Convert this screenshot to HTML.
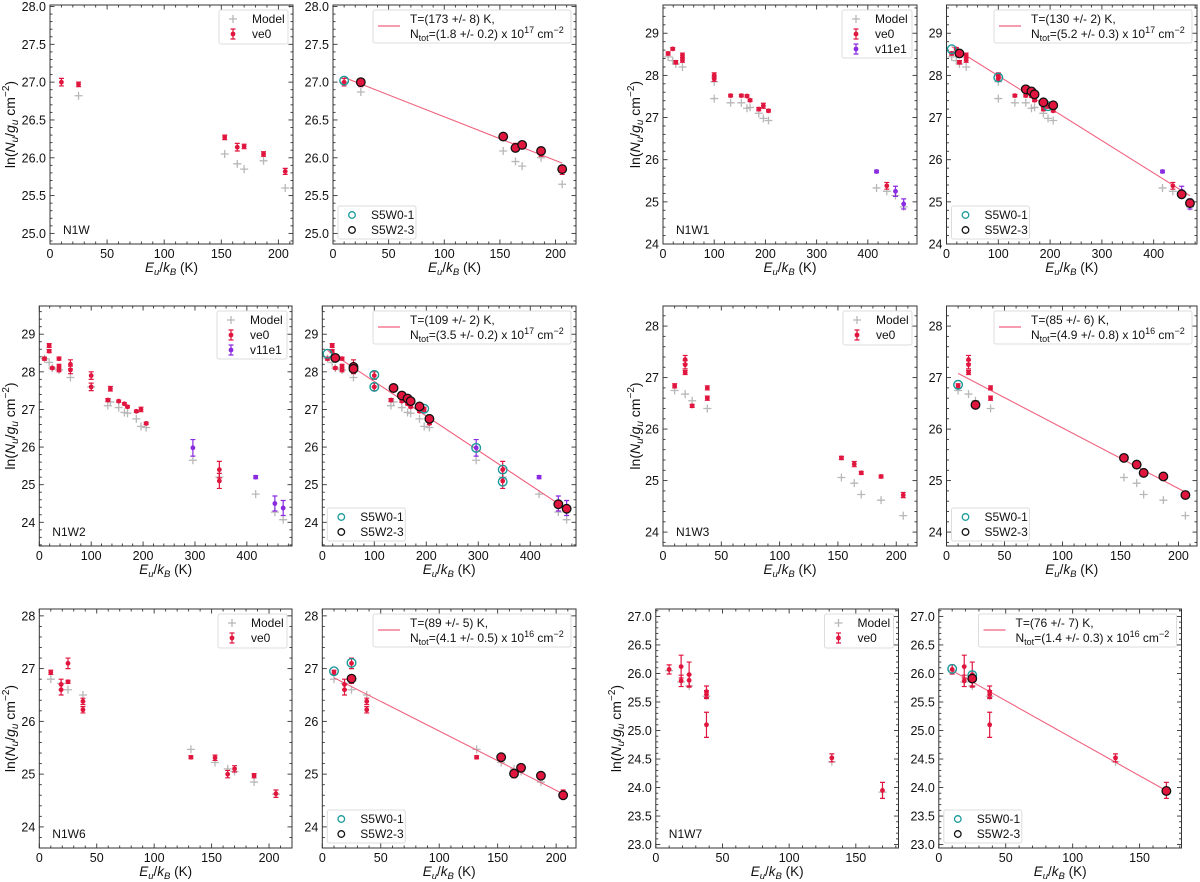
<!DOCTYPE html>
<html><head><meta charset="utf-8"><style>
html,body{margin:0;padding:0;background:#fff}
svg{display:block;font-family:"Liberation Sans",sans-serif}
</style></head><body>
<svg id="fig" width="1200" height="882" viewBox="0 0 1200 882"></svg>
<script>
// ---------- data ----------
const w_ve0 = [[10,27.0,.05],[25,26.97,.03],[153,26.27,.03],[164,26.14,.05],[170,26.15,.03],[187,26.05,.03],[206,25.82,.04]];
const w_model = [[25,26.82],[153,26.05],[164,25.92],[170,25.85],[187,25.96],[206,25.6]];
const w_model2 = [[10,27.0],[25,26.87],[153,26.09],[164,25.95],[170,25.89],[187,26.0],[206,25.65]];
const w_s0 = [[10,27.02]];
const w_s2 = [[25,27.0],[153,26.28],[164,26.13],[170,26.17],[187,26.09],[206,25.85]];

const w1_ve0 = [[10,28.52,.04],[19,28.63,.03],[25,28.31,.04],[38,28.48,.05],[38,28.36,.05],[100,28.0,.06],[100,27.92,.06],[132,27.52,.03],[153,27.52,.03],[164,27.51,.03],[170,27.41,.03],[187,27.2,.04],[196,27.28,.06],[206,27.16,.03],[437,25.38,.08]];
const w1_v11 = [[417,25.72,.03],[454,25.25,.12],[470,24.95,.12]];
const w1_model = [[10,28.44],[19,28.35],[25,28.27],[38,28.2],[100,27.45],[100,27.85],[132,27.35],[153,27.35],[164,27.22],[170,27.24],[187,27.1],[196,26.98],[206,26.93],[417,25.33],[437,25.25],[454,25.15],[470,24.88]];
const w1_s0 = [[10,28.62],[100,27.95],[196,27.27]];
const w1_s2 = [[25,28.52],[153,27.67],[164,27.62],[170,27.55],[187,27.36],[206,27.29],[454,25.18],[470,24.97]];

const w2_ve0 = [[10,28.35,.04],[19,28.7,.05],[19,28.55,.04],[25,28.1,.03],[38,28.35,.04],[38,28.15,.05],[38,28.05,.05],[60,28.2,.12],[60,28.05,.1],[100,27.9,.1],[100,27.6,.1],[137,27.55,.06],[132,27.25,.04],[153,27.22,.03],[164,27.15,.03],[170,27.07,.03],[187,26.95,.03],[196,27.0,.06],[206,26.63,.03],[347,25.4,.22],[347,25.1,.2]];
const w2_v11 = [[296,25.98,.22],[417,25.2,.04],[454,24.5,.2],[470,24.38,.2]];
const w2_model = [[10,28.35],[19,28.25],[25,28.1],[38,28.05],[60,27.85],[100,27.6],[137,27.2],[132,27.1],[153,27.05],[164,26.92],[170,26.9],[187,26.75],[196,26.55],[206,26.52],[296,25.65],[347,25.2],[417,24.75],[454,24.27],[470,24.07]];
const w2_s0 = [[10,28.48],[100,27.92],[100,27.6],[196,27.02],[296,25.98],[347,25.4],[347,25.08]];
const w2_s2 = [[25,28.37],[60,28.13],[60,28.08],[137,27.57],[153,27.37],[164,27.29],[170,27.22],[187,27.08],[206,26.75],[454,24.48],[470,24.36]];

const w3_ve0 = [[10,26.84,.04],[19,27.35,.08],[19,27.25,.08],[19,27.1,.04],[25,26.45,.03],[38,26.8,.04],[38,26.6,.04],[153,25.44,.03],[164,25.32,.05],[170,25.15,.03],[187,25.08,.03],[206,24.72,.05]];
const w3_model = [[10,26.75],[19,26.68],[25,26.55],[38,26.4],[153,25.06],[164,24.95],[170,24.73],[187,24.62],[206,24.32]];
const w3_s0 = [[10,26.86]];
const w3_s2 = [[25,26.47],[153,25.44],[164,25.31],[170,25.15],[187,25.08],[206,24.72]];

const w6_ve0 = [[10,26.93,.04],[19,26.7,.1],[19,26.6,.1],[25,27.1,.1],[25,26.75,.03],[38,26.38,.06],[38,26.22,.06],[132,25.32,.03],[153,25.31,.05],[164,25.0,.07],[170,25.1,.06],[187,24.97,.04],[206,24.63,.07]];
const w6_model = [[10,26.8],[19,26.72],[25,26.6],[38,26.5],[132,25.47],[153,25.22],[164,25.1],[170,25.05],[187,24.85],[206,24.62]];
const w6_s0 = [[10,26.95],[25,27.11]];
const w6_s2 = [[25,26.81],[153,25.32],[164,25.01],[170,25.12],[187,24.97],[206,24.6]];

const w7_ve0 = [[10,26.07,.08],[19,26.12,.2],[19,25.87,.1],[25,25.98,.22],[25,25.88,.1],[38,25.68,.1],[38,25.63,.07],[38,25.1,.22],[132,24.52,.07],[170,23.95,.14]];
const w7_model = [[10,26.05],[19,25.85],[25,25.78],[38,25.6],[132,24.45],[170,23.92]];
const w7_s0 = [[10,26.08],[25,25.97]];
const w7_s2 = [[25,25.91],[170,23.94]];

// fits: temperature, intercept at x=0, x range
const fitT = [173,130,109,85,89,76];
const fitB = [27.12,28.76,28.66,27.2,26.94,26.18];
const fitN = ['1.8 +/- 0.2','5.2 +/- 0.3','3.5 +/- 0.2','4.9 +/- 0.8','4.1 +/- 0.5','1.4 +/- 0.3'];
const fitE = ['17','17','17','16','16','16'];
const fitTerr = ['173 +/- 8','130 +/- 2','109 +/- 2','85 +/- 6','89 +/- 5','76 +/- 7'];
const fitX = [[10,206],[10,470],[10,470],[10,206],[10,206],[10,170]];
const names = ['N1W','N1W1','N1W2','N1W3','N1W6','N1W7'];

// ---------- layout ----------
const panels = [
 {b:[50,293,5,244],xl:[0,212.8],yl:[24.86,28.02],xm:50,xn:10,ym:.5,yn:.1,dec:1,ylx:15,ve0:w_ve0,model:w_model,k:0,left:true},
 {b:[333,576,5,244],xl:[0,218.4],yl:[24.86,28.02],xm:50,xn:10,ym:.5,yn:.1,dec:1,ve0:w_ve0,model:w_model2,s0:w_s0,s2:w_s2,k:0},
 {b:[663,917,5,244],xl:[0,496],yl:[24.0,29.67],xm:100,xn:20,ym:1,yn:.2,dec:0,ylx:640,ve0:w1_ve0,v11:w1_v11,model:w1_model,k:1,left:true},
 {b:[946.5,1197,5,244],xl:[0,483.6],yl:[24.0,29.67],xm:100,xn:20,ym:1,yn:.2,dec:0,ve0:w1_ve0,v11:w1_v11,model:w1_model,s0:w1_s0,s2:w1_s2,k:1},
 {b:[39.3,292,306,546],xl:[0,487],yl:[23.37,29.75],xm:100,xn:20,ym:1,yn:.2,dec:0,ylx:15,ve0:w2_ve0,v11:w2_v11,model:w2_model,k:2,left:true},
 {b:[322.3,576,306,546],xl:[0,488],yl:[23.37,29.75],xm:100,xn:20,ym:1,yn:.2,dec:0,ve0:w2_ve0,v11:w2_v11,model:w2_model,s0:w2_s0,s2:w2_s2,k:2},
 {b:[663,917,306,546],xl:[0,217.8],yl:[23.73,28.39],xm:50,xn:10,ym:1,yn:.2,dec:0,ylx:640,ve0:w3_ve0,model:w3_model,k:3,left:true},
 {b:[946.5,1197,306,546],xl:[0,216],yl:[23.73,28.39],xm:50,xn:10,ym:1,yn:.2,dec:0,ve0:w3_ve0,model:w3_model,s0:w3_s0,s2:w3_s2,k:3},
 {b:[39.3,292,609,848],xl:[0,220],yl:[23.6,28.13],xm:50,xn:10,ym:1,yn:.2,dec:0,ylx:15,ve0:w6_ve0,model:w6_model,k:4,left:true},
 {b:[322.3,576,609,848],xl:[0,217],yl:[23.6,28.13],xm:50,xn:10,ym:1,yn:.2,dec:0,ve0:w6_ve0,model:w6_model,s0:w6_s0,s2:w6_s2,k:4},
 {b:[655.8,898.5,609,848],xl:[0,182],yl:[22.94,27.13],xm:50,xn:10,ym:.5,yn:.1,dec:1,ylx:621,ve0:w7_ve0,model:w7_model,k:5,left:true},
 {b:[938.8,1181.5,609,848],xl:[0,181.3],yl:[22.94,27.13],xm:50,xn:10,ym:.5,yn:.1,dec:1,ve0:w7_ve0,model:w7_model,s0:w7_s0,s2:w7_s2,k:5}
];

const NS='http://www.w3.org/2000/svg';
const svg=document.getElementById('fig');
function mk(tag,attrs,parent,text){const e=document.createElementNS(NS,tag);for(const a in attrs)e.setAttribute(a,attrs[a]);if(text!==undefined)e.textContent=text;(parent||svg).appendChild(e);return e;}
const RED='#e0163f',PUR='#8a2be2',GRAY='#b8b8b8',TEAL='#1a9a9a';

function plus(g,x,y,c,s){mk('path',{d:`M${x-s} ${y}H${x+s}M${x} ${y-s}V${y+s}`,stroke:c,'stroke-width':1.3,fill:'none'},g);}
function errbar(g,x,ye,yt,yb,c){
  mk('path',{d:`M${x} ${yt}V${yb}M${x-2.5} ${yt}H${x+2.5}M${x-2.5} ${yb}H${x+2.5}`,stroke:c,'stroke-width':1.2,fill:'none'},g);
  mk('circle',{cx:x,cy:ye,r:2.4,fill:c},g);
}

panels.forEach((p,i)=>{
  const [x0,x1,y0,y1]=p.b;
  const X=v=>x0+(v-p.xl[0])/(p.xl[1]-p.xl[0])*(x1-x0);
  const Y=v=>y1-(v-p.yl[0])/(p.yl[1]-p.yl[0])*(y1-y0);
  const g=mk('g',{},svg);
  
  
  const clipId='clip'+i;
  const cp=mk('clipPath',{id:clipId},g);mk('rect',{x:x0,y:y0,width:x1-x0,height:y1-y0},cp);
  const tk=mk('g',{stroke:'#333','stroke-width':0.9},g);
  
  
  for(let v=0;v<=p.xl[1]+1e-9;v+=p.xn){
    const px=X(v);if(px<x0-0.1||px>x1+0.1)continue;
    const major=Math.abs(v/p.xm-Math.round(v/p.xm))<1e-6;const L=major?4.5:2.5;
    mk('line',{x1:px,x2:px,y1:y1,y2:y1-L},tk);mk('line',{x1:px,x2:px,y1:y0,y2:y0+L},tk);
    if(major){const t=mk('text',{x:px,y:y1+14,'text-anchor':'middle','font-size':12.5,fill:'#111',stroke:'none'},g,String(Math.round(v)));
      }
  }
  const ys=Math.ceil(p.yl[0]/p.yn-1e-6);
  for(let n=ys;n*p.yn<=p.yl[1]+1e-9;n++){
    const v=n*p.yn,py=Y(v);
    const major=Math.abs(v/p.ym-Math.round(v/p.ym))<1e-6;const L=major?4.5:2.5;
    mk('line',{x1:x0,x2:x0+L,y1:py,y2:py},tk);mk('line',{x1:x1,x2:x1-L,y1:py,y2:py},tk);
    if(major){const t=mk('text',{x:x0-4,y:py+4.5,'text-anchor':'end','font-size':12.5,fill:'#111',stroke:'none'},g,v.toFixed(p.dec));
      }
  }
  const xlab=mk('text',{x:(x0+x1)/2,y:y1+28,'text-anchor':'middle','font-size':13.5,fill:'#111'},g);
  
  xlab.innerHTML='<tspan font-style="italic">E</tspan><tspan font-style="italic" font-size="9.5" dy="3">u</tspan><tspan dy="-3">/</tspan><tspan font-style="italic">k</tspan><tspan font-style="italic" font-size="9.5" dy="3">B</tspan><tspan dy="-3"> (K)</tspan>';
  if(p.left){
    const yl=mk('text',{x:0,y:0,'text-anchor':'middle','font-size':14,fill:'#111',transform:`translate(${p.ylx},${(y0+y1)/2}) rotate(-90)`},g);
    
    yl.innerHTML='ln(<tspan font-style="italic">N</tspan><tspan font-style="italic" font-size="10" dy="3">u</tspan><tspan dy="-3">/</tspan><tspan font-style="italic">g</tspan><tspan font-style="italic" font-size="10" dy="3">u</tspan><tspan dy="-3"> cm</tspan><tspan font-size="10" dy="-6">−2</tspan><tspan dy="6">)</tspan>';
    const nm=mk('text',{x:x0+13,y:y1-10,'font-size':12,fill:'#111'},g,names[p.k]);
    
  }
  const dg=mk('g',{'clip-path':`url(#${clipId})`},g);
  
  p.model.forEach(d=>{plus(dg,X(d[0]),Y(d[1]),GRAY,4);});
  if(!p.left){
    const k=p.k,[xa,xb]=fitX[k];
    const ln=mk('line',{x1:X(xa),y1:Y(fitB[k]-xa/fitT[k]),x2:X(xb),y2:Y(fitB[k]-xb/fitT[k]),stroke:'#f0627e','stroke-width':1.1},dg);
    
  }
  p.ve0.forEach(d=>{errbar(dg,X(d[0]),Y(d[1]),Y(d[1]+d[2]),Y(d[1]-d[2]),RED);});
  if(p.v11)p.v11.forEach(d=>{errbar(dg,X(d[0]),Y(d[1]),Y(d[1]+d[2]),Y(d[1]-d[2]),PUR);});
  if(p.s0)p.s0.forEach(d=>{mk('circle',{cx:X(d[0]),cy:Y(d[1]),r:4.3,fill:'none',stroke:TEAL,'stroke-width':1.4},dg);});
  if(p.s2)p.s2.forEach(d=>{mk('circle',{cx:X(d[0]),cy:Y(d[1]),r:4.3,fill:RED,stroke:'#111','stroke-width':1.3},dg);});
  const fr=mk('rect',{x:x0,y:y0,width:x1-x0,height:y1-y0,fill:'none',stroke:'#333','stroke-width':1},g);
  
  if(p.left){
    const n=p.v11?3:2,h=n===3?48:34,w=n===3?70:69;
    const lg=mk('g',{},g);
    const lx=x1-5-w,ly=y0+5;
    mk('rect',{x:lx,y:ly,width:w,height:h,fill:'#fff',stroke:'#ddd','stroke-width':1,rx:2},lg);
    plus(lg,lx+14,ly+9,GRAY,4);
    mk('text',{x:lx+33,y:ly+13,'font-size':12,fill:'#111'},lg,'Model');
    errbar(lg,lx+14,ly+24,ly+19,ly+29,RED);
    mk('text',{x:lx+33,y:ly+28,'font-size':12,fill:'#111'},lg,'ve0');
    if(n===3){errbar(lg,lx+14,ly+39,ly+34,ly+44,PUR);mk('text',{x:lx+33,y:ly+43,'font-size':12,fill:'#111'},lg,'v11e1');}
  } else {
    const k=p.k;
    const lg=mk('g',{},g);
    const w=198,lx=x1-5-w,ly=y0+5;
    mk('rect',{x:lx,y:ly,width:w,height:33,fill:'#fff',stroke:'#ddd','stroke-width':1,rx:2},lg);
    mk('line',{x1:lx+5,x2:lx+27,y1:ly+16,y2:ly+16,stroke:'#f0627e','stroke-width':1.2},lg);
    mk('text',{x:lx+37,y:ly+13,'font-size':12,fill:'#111'},lg,'T=('+fitTerr[k]+') K,');
    const t2=mk('text',{x:lx+37,y:ly+28,'font-size':12,fill:'#111'},lg);
    t2.innerHTML='N<tspan font-size="9" dy="3">tot</tspan><tspan dy="-3">=('+fitN[k]+') x 10</tspan><tspan font-size="9" dy="-5">'+fitE[k]+'</tspan><tspan dy="5"> cm</tspan><tspan font-size="9" dy="-5">−2</tspan>';
    const lg2=mk('g',{},g);
    const bx=x0+5,by=y1-5-33;
    mk('rect',{x:bx,y:by,width:78,height:33,fill:'#fff',stroke:'#ddd','stroke-width':1,rx:2},lg2);
    mk('circle',{cx:bx+14,cy:by+9,r:3.3,fill:'none',stroke:TEAL,'stroke-width':1.3},lg2);
    mk('text',{x:bx+33,y:by+13,'font-size':12,fill:'#111'},lg2,'S5W0-1');
    mk('circle',{cx:bx+14,cy:by+24,r:3.3,fill:'none',stroke:'#111','stroke-width':1.3},lg2);
    mk('text',{x:bx+33,y:by+28,'font-size':12,fill:'#111'},lg2,'S5W2-3');
  }
});
</script>
</body></html>
